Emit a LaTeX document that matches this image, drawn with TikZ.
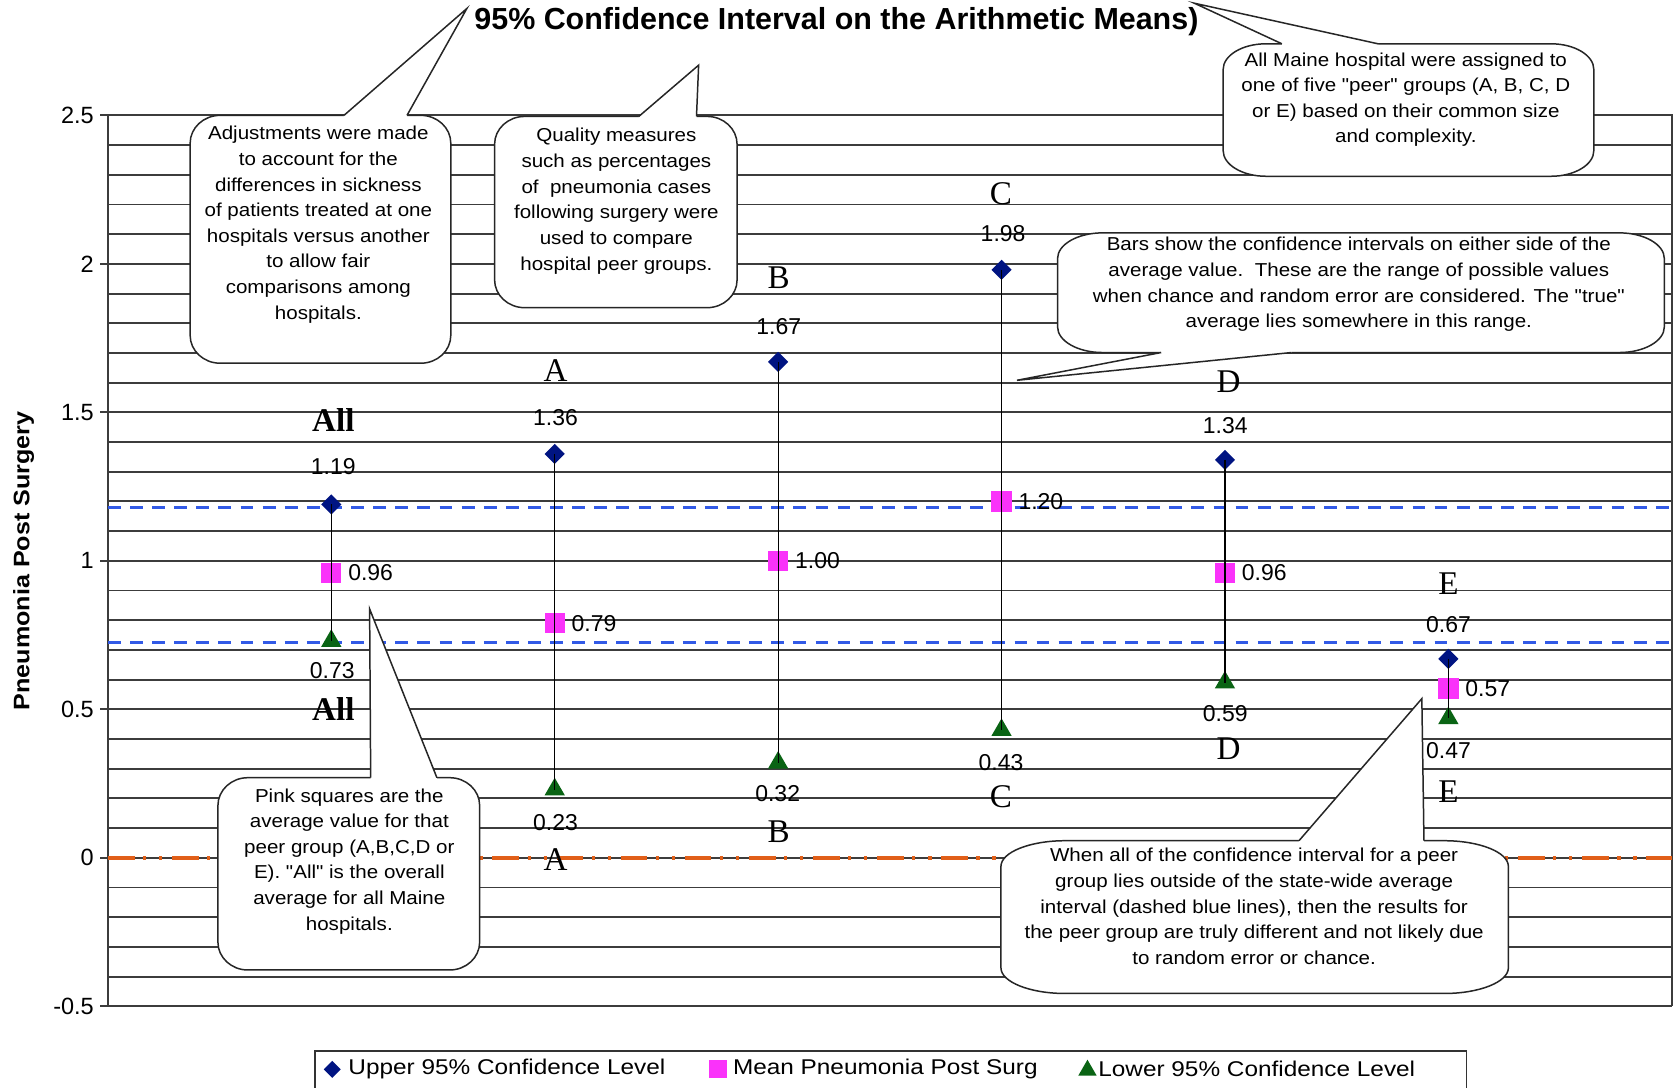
\documentclass[tikz,border=0pt]{standalone}
\usepackage{fontspec}
\usepackage{graphicx}
\setmainfont{Liberation Sans}[Ligatures=TeXOff]
\newfontfamily\serifcat{Liberation Serif}
\usetikzlibrary{shapes.geometric}
\definecolor{navyd}{RGB}{0,20,130}
\definecolor{pinkm}{RGB}{250,50,250}
\definecolor{greent}{RGB}{10,100,20}
\definecolor{dblue}{RGB}{50,90,230}
\definecolor{orng}{RGB}{225,95,25}
\definecolor{gridc}{RGB}{60,60,60}
\newcommand\ctext[1]{\scalebox{1.1}[1]{\fontsize{17.5}{24}\selectfont\begin{tabular}{@{}c@{}}#1\end{tabular}}}
\newcommand\rbox[6]{%
\filldraw[cbox] ({#1+#5},#2) -- ({#3-#5},#2) .. controls ({#3-0.45*#5},#2) and (#3,{#2+0.45*#6}) .. (#3,{#2+#6}) -- (#3,{#4-#6}) .. controls (#3,{#4-0.45*#6}) and ({#3-0.45*#5},#4) .. ({#3-#5},#4) -- ({#1+#5},#4) .. controls ({#1+0.45*#5},#4) and (#1,{#4-0.45*#6}) .. (#1,{#4-#6}) -- (#1,{#2+#6}) .. controls (#1,{#2+0.45*#6}) and ({#1+0.45*#5},#2) .. cycle;}
\newcommand\cptr[6]{%
\fill[white] (#1,#3) -- (#4,#5) -- (#2,#3) -- (#2,{#3+#6}) -- (#1,{#3+#6}) -- cycle;
\draw[cline] (#1,#3) -- (#4,#5) -- (#2,#3);}
\begin{document}
\begin{tikzpicture}[x=1pt,y=-1pt,
  grid/.style={draw=gridc, line width=1.8pt},
  cbox/.style={draw=black!85, fill=white, line width=1.4pt},
  cline/.style={draw=black!85, line width=1.4pt, line join=miter},
  dia/.style={diamond, fill=navyd, minimum size=19pt, inner sep=0pt},
  sq/.style={rectangle, fill=pinkm, minimum size=19pt, inner sep=0pt},
  tri/.style={regular polygon, regular polygon sides=3, fill=greent, minimum size=22pt, inner sep=0pt},
  bar/.style={draw=black, line width=1.1pt},
  vlab/.style={font=\fontsize{21.5}{24}\selectfont, inner sep=0pt},
  catl/.style={font=\serifcat\fontsize{31}{34}\selectfont, inner sep=0pt},
  ctxt/.style={inner sep=0pt},
  ylab/.style={font=\fontsize{22}{24}\selectfont, inner sep=0pt, anchor=east},
  lgtxt/.style={font=\fontsize{20}{22}\selectfont, inner sep=0pt, anchor=west}
]
\useasboundingbox (0,0) rectangle (1568,1018);
\clip (0,0) rectangle (1568,1018);
\fill[white] (0,0) rectangle (1568,1018);
% grid
\foreach \i in {0,...,30} {\draw[grid] (101,{942-27.8*\i}) -- (1565,{942-27.8*\i});}
\foreach \i in {0,5,...,30} {\draw[grid] (94,{942-27.8*\i}) -- (101,{942-27.8*\i});}
\draw[grid] (101,107) -- (101,942);
\draw[grid] (1565,107) -- (1565,942);
% reference lines
\draw[dblue, line width=3pt, dash pattern=on 12pt off 8.7pt] (101,{803-278*1.18}) -- (1565,{803-278*1.18});
\draw[dblue, line width=3pt, dash pattern=on 12pt off 8.7pt] (101,{803-278*0.725}) -- (1565,{803-278*0.725});
\draw[orng, line width=3.5pt, dash pattern=on 25pt off 8pt on 3pt off 12pt on 3pt off 9pt] (101,803) -- (1565,803);
% y tick labels
\foreach \v/\t in {2.5/2.5, 2/2, 1.5/1.5, 1/1, 0.5/0.5, 0/0, -0.5/-0.5} {\node[ylab] (yt\t) at (88,{803-278*\v}) {\t};}
\node[rotate=90, inner sep=0pt] (ytitle) at (22,525) {\scalebox{1.12}[1]{\bfseries\fontsize{21}{24}\selectfont Pneumonia Post Surgery}};
% markers
\foreach \k/\u/\m/\l/\n in {1/1.19/0.96/0.73/all, 2/1.36/0.79/0.23/a, 3/1.67/1.00/0.32/b, 4/1.98/1.20/0.43/c, 5/1.34/0.96/0.59/d, 6/0.67/0.57/0.47/e} {
  \node[dia] (u\n) at ({101+209.14*\k},{803-278*\u}) {};
  \node[sq] (m\n) at ({101+209.14*\k},{803-278*\m}) {};
  \node[tri] (l\n) at ({101+209.14*\k},{803-278*\l}) {};
  \draw[bar] (u\n.center) -- (l\n.center);
  \node[vlab, anchor=west] (mv\n) at ([xshift=6pt]m\n.east) {\m};
}
% value and category labels
\node[catl, font=\serifcat\bfseries\fontsize{31}{34}\selectfont] (cuall) at (312,393) {All};
\node[vlab] (vuall) at (312,437) {1.19};
\node[vlab] (vlall) at (311,628) {0.73};
\node[catl, font=\serifcat\bfseries\fontsize{31}{34}\selectfont] (clall) at (312,664) {All};
\node[catl] (cua) at (520,347) {A};
\node[vlab] (vua) at (520,391) {1.36};
\node[vlab] (vla) at (520,770) {0.23};
\node[catl] (cla) at (520,805) {A};
\node[catl] (cub) at (729,260) {B};
\node[vlab] (vub) at (729,306) {1.67};
\node[vlab] (vlb) at (728,743) {0.32};
\node[catl] (clb) at (729,779) {B};
\node[catl] (cuc) at (937,181) {C};
\node[vlab] (vuc) at (939,219) {1.98};
\node[vlab] (vlc) at (937,714) {0.43};
\node[catl] (clc) at (937,746) {C};
\node[catl] (cud) at (1150,357) {D};
\node[vlab] (vud) at (1147,398) {1.34};
\node[vlab] (vld) at (1147,668) {0.59};
\node[catl] (cld) at (1150,701) {D};
\node[catl] (cue) at (1356,546) {E};
\node[vlab] (vue) at (1356,585) {0.67};
\node[vlab] (vle) at (1356,703) {0.47};
\node[catl] (cle) at (1356,741) {E};
% callouts
\rbox{178}{108}{422}{340}{28}{26}
\cptr{322}{381}{108}{437}{8}{2}
\node[ctxt] (c1) at (298,210) {\ctext{Adjustments were made\\to account for the\\differences in sickness\\of patients treated at one\\hospitals versus another\\to allow fair\\comparisons among\\hospitals.}};
\rbox{463}{109}{690}{288}{28}{26}
\cptr{598}{652}{109}{654}{61}{2}
\node[ctxt] (c2) at (577,188) {\ctext{Quality measures\\such as percentages\\of \ pneumonia cases\\following surgery were\\used to compare\\hospital peer groups.}};
\rbox{1145}{41}{1492}{165}{40}{24}
\cptr{1200}{1290}{41}{1118}{3}{2}
\node[ctxt] (c3) at (1316,93) {\ctext{All Maine hospital were assigned to\\one of five "peer" groups (A, B, C, D\\or E) based on their common size\\and complexity.}};
\rbox{990}{218}{1558}{330}{42}{24}
\cptr{1087}{1209}{330}{952}{356}{-2}
\node[ctxt] (c4) at (1272,266) {\ctext{Bars show the confidence intervals on either side of the\\average value.\ \ These are the range of possible values\\when chance and random error are considered. The "true"\\average lies somewhere in this range.}};
\rbox{204}{728}{449}{908}{28}{26}
\cptr{347}{409}{728}{346}{570}{2}
\node[ctxt] (c5) at (327,806) {\ctext{Pink squares are the\\average value for that\\peer group (A,B,C,D or\\E). "All" is the overall\\average for all Maine\\hospitals.}};
\rbox{937}{787}{1412}{930}{60}{24}
\cptr{1216}{1333}{787}{1331}{654}{2}
\node[ctxt] (c6) at (1174,850) {\ctext{When all of the confidence interval for a peer\\group lies outside of the state-wide average\\interval (dashed blue lines), then the results for\\the peer group are truly different and not likely due\\to random error or chance.}};
% title
\node[inner sep=0pt, font=\bfseries\fontsize{28.5}{30}\selectfont] (title) at (783,20) {95\% Confidence Interval on the Arithmetic Means)};
% legend
\draw[draw=black!80, line width=1.4pt, fill=white] (295,984) rectangle (1373,1040);
\node[dia, minimum size=16pt] (lgu) at (311,1001) {};
\node[lgtxt] (lgut) at (326,1001) {\scalebox{1.14}[1]{Upper 95\% Confidence Level}};
\node[sq, minimum size=17pt] (lgm) at (672,1001) {};
\node[lgtxt] (lgmt) at (686,1001) {\scalebox{1.14}[1]{Mean Pneumonia Post Surg}};
\node[tri, minimum size=20pt] (lgl) at (1018,1002) {};
\node[lgtxt] (lglt) at (1028,1001) {\scalebox{1.14}[1]{Lower 95\% Confidence Level}};
\end{tikzpicture}
\end{document}
